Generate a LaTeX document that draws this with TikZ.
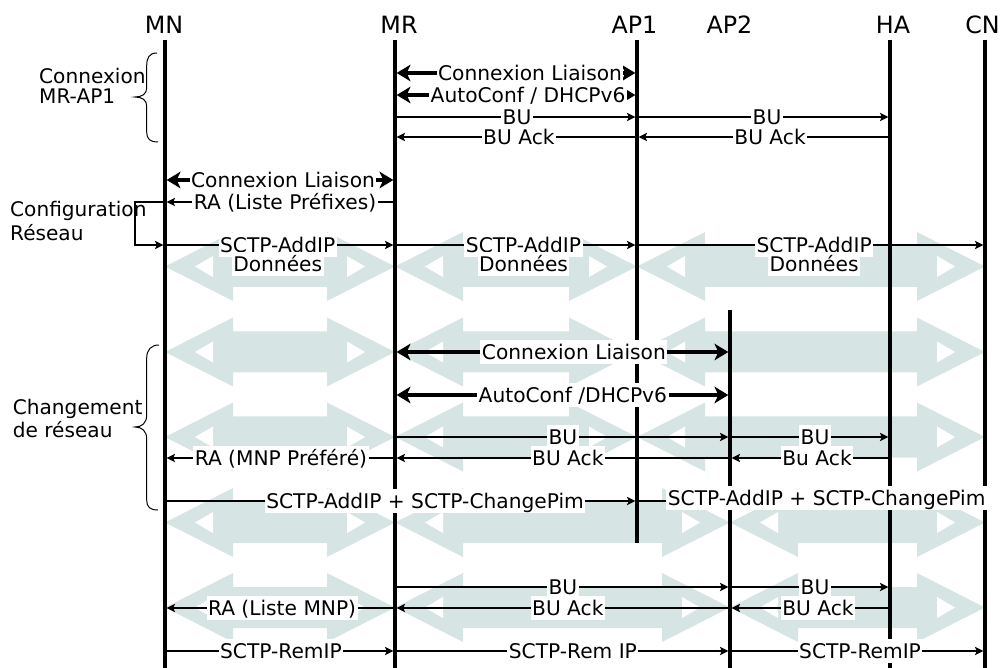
\documentclass[tikz,border=0pt]{standalone}
\usepackage{fontspec}
\setmainfont{DejaVu Sans}
\usetikzlibrary{arrows.meta}
\definecolor{flowcol}{RGB}{214,229,228}
% big light double arrow between x1 and x2 at height y
\newcommand\dataflow[3]{%
  \fill[flow] (#1,#3) -- (#1+68,#3-34.5) -- (#1+68,#3-20.5) -- (#2-68,#3-20.5) -- (#2-68,#3-34.5)
     -- (#2,#3) -- (#2-68,#3+34.5) -- (#2-68,#3+20.5) -- (#1+68,#3+20.5) -- (#1+68,#3+34.5) -- cycle;
  \fill[white] (#1+30,#3) -- (#1+48,#3-10.5) -- (#1+48,#3+10.5) -- cycle;
  \fill[white] (#2-30,#3) -- (#2-48,#3-10.5) -- (#2-48,#3+10.5) -- cycle;}
\begin{document}
\begin{tikzpicture}[x=1pt,y=-1pt,
  head/.style={font=\fontsize{23.8}{28}\selectfont, inner sep=0pt, text height=21.4pt, text depth=4.8pt},
  lifeline/.style={line width=3.5pt},
  msg/.style={line width=1.25pt, shorten >=1.7pt, -{Stealth[length=8.5pt,width=8.5pt,inset=2pt,line width=0pt]}},
  link/.style={line width=4pt, shorten >=1.7pt, shorten <=1.7pt,
     {Stealth[length=14pt,width=17pt,inset=4pt,line width=0pt]}-{Stealth[length=14pt,width=17pt,inset=4pt,line width=0pt]}},
  lbl/.style={fill=white, font=\fontsize{20.2}{23.5}\selectfont, inner xsep=1.5pt, inner ysep=1pt, text height=18.2pt, text depth=4pt},
  side/.style={font=\fontsize{20.1}{23.5}\selectfont, inner sep=0pt},
  curly/.style={line width=1pt},
  flow/.style={fill=flowcol}]
\useasboundingbox (0,0) rectangle (1002,668);

% data flows
\foreach \y in {266.5,352,437}{
  \dataflow{165}{395}{\y}
  \dataflow{395}{637}{\y}
  \dataflow{637}{985}{\y}}
\foreach \y in {522.5,607.5}{
  \dataflow{165}{395}{\y}
  \dataflow{395}{730}{\y}
  \dataflow{730}{985}{\y}}

% headers
\node[head] (hMN) at (164,25) {MN};
\node[head] (hMR) at (399,25) {MR};
\node[head] (hAP1) at (634.5,25) {AP1};
\node[head] (hAP2) at (729.5,25) {AP2};
\node[head] (hHA) at (893,25) {HA};
\node[head] (hCN) at (982.5,25) {CN};

% lifelines
\coordinate (mn) at (165,40);
\coordinate (mr) at (395,40);
\coordinate (ap1) at (637,40);
\coordinate (ap2) at (730,310);
\coordinate (ha) at (890,40);
\coordinate (cn) at (985,40);
\draw[lifeline] (mn) -- (mn|-0,668);
\draw[lifeline] (mr) -- (mr|-0,668);
\draw[lifeline] (ap1) -- (ap1|-0,543);
\draw[lifeline] (ap2) -- (ap2|-0,668);
\draw[lifeline] (ha) -- (ha|-0,668);
\draw[lifeline] (cn) -- (cn|-0,668);

% side labels and braces
\node[side,anchor=base west] (t1) at (39,83.3) {Connexion};
\node[side,anchor=base west] (t2) at (39,104) {MR-AP1};
\node[side,anchor=base west] (t3) at (10,216.5) {Configuration};
\node[side,anchor=base west] (t4) at (10,241) {Réseau};
\node[side,anchor=base west] (t5) at (12.7,414) {Changement};
\node[side,anchor=base west] (t6) at (12.7,438) {de réseau};
\draw[curly] (157,53) .. controls (149,53) and (146.7,58) .. (146.7,66) -- (146.7,88)
  .. controls (146.7,94) and (142,97) .. (135,97) .. controls (142,97) and (146.7,100) .. (146.7,106)
  -- (146.7,132) .. controls (146.7,139) and (150,142) .. (158,142);
\draw[curly] (159,345) .. controls (151,345) and (146.7,350) .. (146.7,358) -- (146.7,415)
  .. controls (146.7,423) and (142,427) .. (135,427) .. controls (142,427) and (146.7,431) .. (146.7,439)
  -- (146.7,500) .. controls (146.7,507) and (150,510) .. (158,510);

% Connexion MR-AP1
\draw[link] (mr|-0,73) -- node[lbl,pos=.558]{Connexion Liaison} (ap1|-0,73);
\draw[link] (mr|-0,95) -- node[lbl,pos=.55]{AutoConf / DHCPv6} (ap1|-0,95);
\draw[msg] (mr|-0,117) -- node[lbl,pos=.504]{BU} (ap1|-0,117);
\draw[msg] (ap1|-0,117) -- node[lbl,pos=.514]{BU} (ha|-0,117);
\draw[msg] (ap1|-0,137) -- node[lbl,pos=.488]{BU Ack} (mr|-0,137);
\draw[msg] (ha|-0,137) -- node[lbl,pos=.474]{BU Ack} (ap1|-0,137);

% Configuration reseau
\draw[link] (mn|-0,180) -- node[lbl,pos=.513]{Connexion Liaison} (mr|-0,180);
\draw[msg] (mr|-0,202) -- node[lbl,pos=.478]{RA (Liste Préfixes)} (mn|-0,202);
\coordinate (bk1) at (135,202);
\coordinate (bk2) at (135,245);
\draw[msg] (mn|-0,202) -- (bk1) -- (bk2) -- (mn|-0,245);
\draw[msg] (mn|-0,245) -- node[lbl,pos=.49] (s1) {SCTP-AddIP} (mr|-0,245);
\draw[msg] (mr|-0,245) -- node[lbl,pos=.531] (s2) {SCTP-AddIP} (ap1|-0,245);
\draw[msg] (ap1|-0,245) -- node[lbl,pos=.509] (s3) {SCTP-AddIP} (cn|-0,245);
\node[lbl] (d1) at ([yshift=-19pt]s1.center) {Données};
\node[lbl] (d2) at ([yshift=-19pt]s2.center) {Données};
\node[lbl] (d3) at ([yshift=-19pt]s3.center) {Données};

% Changement de reseau
\draw[link] (mr|-0,352) -- node[lbl,pos=.534]{Connexion Liaison} (ap2|-0,352);
\draw[link] (mr|-0,395) -- node[lbl,pos=.531]{AutoConf /DHCPv6} (ap2|-0,395);
\draw[msg] (mr|-0,437) -- node[lbl,pos=.501]{BU} (ap2|-0,437);
\draw[msg] (ap2|-0,437) -- node[lbl,pos=.531]{BU} (ha|-0,437);
\draw[msg] (mr|-0,458) -- node[lbl,pos=.496]{RA (MNP Préféré)} (mn|-0,458);
\draw[msg] (ap2|-0,458) -- node[lbl,pos=.484]{BU Ack} (mr|-0,458);
\draw[msg] (ha|-0,458) -- node[lbl,pos=.456]{Bu Ack} (ap2|-0,458);
\draw[msg] (mn|-0,501) -- node[lbl,pos=.551]{SCTP-AddIP + SCTP-ChangePim} (ap1|-0,501);
\draw[msg] (ap1|-0,501) -- node[lbl,pos=.545,yshift=3pt]{SCTP-AddIP + SCTP-ChangePim} (cn|-0,501);

% bottom
\draw[msg] (mr|-0,587) -- node[lbl,pos=.501]{BU} (ap2|-0,587);
\draw[msg] (ap2|-0,587) -- node[lbl,pos=.531]{BU} (ha|-0,587);
\draw[msg] (mr|-0,608) -- node[lbl,pos=.491]{RA (Liste MNP)} (mn|-0,608);
\draw[msg] (ap2|-0,608) -- node[lbl,pos=.484]{BU Ack} (mr|-0,608);
\draw[msg] (ha|-0,608) -- node[lbl,pos=.45]{BU Ack} (ap2|-0,608);
\draw[msg] (mn|-0,651) -- node[lbl,pos=.504]{SCTP-RemIP} (mr|-0,651);
\draw[msg] (mr|-0,651) -- node[lbl,pos=.531]{SCTP-Rem IP} (ap2|-0,651);
\draw[msg] (ap2|-0,651) -- node[lbl,pos=.51]{SCTP-RemIP} (cn|-0,651);
\end{tikzpicture}
\end{document}
